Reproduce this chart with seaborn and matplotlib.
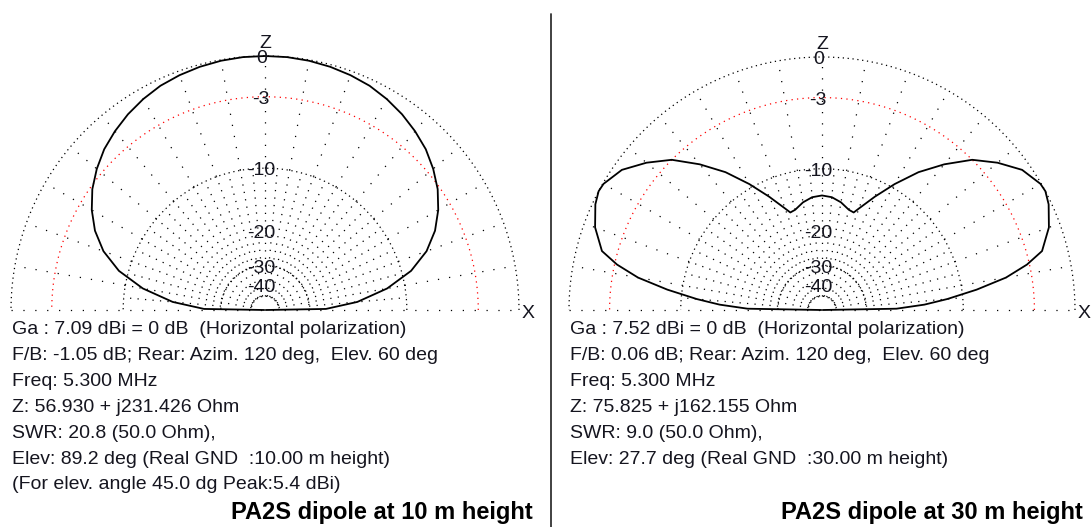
import numpy as np
import matplotlib
matplotlib.use("Agg")
import matplotlib.pyplot as plt
from matplotlib.lines import Line2D
import seaborn as sns

# elevation angle (deg, 0 = X axis, 180 = -X) and gain relative to max (dB)
angles_10m = [0, 1, 5, 10, 15, 20, 25, 30, 35, 40, 45, 50, 55, 60, 65, 70, 75, 80, 85, 90,
              95, 100, 105, 110, 115, 120, 125, 130, 135, 140, 145, 150, 155, 160, 165, 170, 175, 179, 180]
gain_10m = [-99, -24.5, -17.3, -12.3, -8.9, -6.7, -5.2, -4.1, -3.2, -2.5, -1.9, -1.45, -1.05, -0.72,
            -0.45, -0.28, -0.15, -0.06, -0.01, 0.0,
            -0.01, -0.06, -0.15, -0.28, -0.45, -0.72, -1.05, -1.45, -1.9, -2.5, -3.2, -4.1, -5.2,
            -6.7, -8.9, -12.3, -17.3, -24.5, -99]

angles_30m = [0, 1, 3, 5, 7.5, 10, 12.5, 15, 20, 25, 28, 30, 35, 40, 45, 50, 55, 60, 65, 70, 72, 75, 80, 85, 90,
              95, 100, 105, 108, 110, 115, 120, 125, 130, 135, 140, 145, 150, 152, 155, 160,
              165, 167.5, 170, 172.5, 175, 177, 179, 180]
gain_30m = [-99, -21.0, -15.5, -12.0, -8.3, -5.2, -3.2, -1.8, -0.8, -0.2, 0.0, -0.05, -0.6, -1.7, -3.0,
            -4.9, -7.0, -9.5, -12.1, -14.6, -15.5, -15.3, -14.4, -13.8, -13.6,
            -13.8, -14.4, -15.3, -15.5, -14.6, -12.1, -9.5, -7.0, -4.9, -3.0, -1.7, -0.6, -0.05, 0.0,
            -0.2, -0.8, -1.8, -3.2, -5.2, -8.3, -12.0, -15.5, -21.0, -99]

grid_db = [0, -10, -30, -50]
red_db = -3
label_db = [0, -3, -10, -20, -30, -40]
label_txt = ["0", "-3", "-10", "-20", "-30", "-40"]

info_10m = [
    "Ga : 7.09 dBi = 0 dB  (Horizontal polarization)",
    "F/B: -1.05 dB; Rear: Azim. 120 deg,  Elev. 60 deg",
    "Freq: 5.300 MHz",
    "Z: 56.930 + j231.426 Ohm",
    "SWR: 20.8 (50.0 Ohm),",
    "Elev: 89.2 deg (Real GND  :10.00 m height)",
    "(For elev. angle 45.0 dg Peak:5.4 dBi)",
]
info_30m = [
    "Ga : 7.52 dBi = 0 dB  (Horizontal polarization)",
    "F/B: 0.06 dB; Rear: Azim. 120 deg,  Elev. 60 deg",
    "Freq: 5.300 MHz",
    "Z: 75.825 + j162.155 Ohm",
    "SWR: 9.0 (50.0 Ohm),",
    "Elev: 27.7 deg (Real GND  :30.00 m height)",
]
titles = ["PA2S dipole at 10 m height", "PA2S dipole at 30 m height"]

W, H = 1092, 527
TXT = "#15151f"
FS = 14


def arrl(db):
    # ARRL log scale: 0.89 per 2 dB
    return 0.89 ** (-np.asarray(db, dtype=float) / 2.0)


def draw_panel(fig, cx, cy, R, angles, gain):
    x0, x1, y0, y1 = -1.04, 1.09, -0.06, 1.16
    ax = fig.add_axes([(cx + x0 * R) / W, (H - cy + y0 * R) / H,
                       (x1 - x0) * R / W, (y1 - y0) * R / H])
    ax.set_xlim(x0, x1)
    ax.set_ylim(y0, y1)
    ax.axis("off")

    t = np.linspace(0, np.pi, 400)
    dots = dict(color="black", lw=0.9)
    for db in grid_db:
        r = arrl(db)
        ax.plot(r * np.cos(t), r * np.sin(t), ls=(0, (1, 2.9)), **dots)
    r = arrl(red_db)
    ax.plot(r * np.cos(t), r * np.sin(t), ls=(0, (1, 3.4)), color="red", lw=0.9)

    # baseline and spokes
    ax.plot([-1, 1], [0, 0], ls=(0, (1, 8.5)), **dots)
    r_in, r_low, r_mid = arrl(-50), arrl(-30), arrl(-10)
    for a in range(5, 180, 5):
        th = np.radians(a)
        c, s = np.cos(th), np.sin(th)
        if a % 10 == 0:
            ax.plot([r_in * c, r_mid * c], [r_in * s, r_mid * s], ls=(0, (1, 5)), **dots)
            ax.plot([r_mid * c, c], [r_mid * s, s], ls=(0, (1, 8)), **dots)
        else:
            ax.plot([r_low * c, r_mid * c], [r_low * s, r_mid * s], ls=(0, (1, 5)), **dots)

    for db, txt in zip(label_db, label_txt):
        ax.text(-0.015, arrl(db) - 0.01, txt, ha="center", va="center", fontsize=FS, color=TXT)
    ax.text(0, 1.05, "Z", ha="center", va="center", fontsize=FS, color=TXT)
    ax.text(1.012, -0.012, "X", ha="left", va="center", fontsize=FS, color=TXT)

    th = np.radians(angles)
    r = arrl(gain)
    sns.lineplot(x=r * np.cos(th), y=r * np.sin(th), sort=False, estimator=None,
                 color="black", lw=1.3, ax=ax)
    return ax


sns.set_style("white")
plt.rcParams["font.family"] = ["Liberation Sans", "DejaVu Sans"]

fig = plt.figure(figsize=(W / 100, H / 100), dpi=100)
fig.patch.set_facecolor("white")

draw_panel(fig, 265, 310, 254, angles_10m, gain_10m)
draw_panel(fig, 822, 310, 253, angles_30m, gain_30m)

for x, lines in [(12, info_10m), (570, info_30m)]:
    for i, s in enumerate(lines):
        fig.text(x / W, 1 - (330 + i * 25.8) / H, s, ha="left", va="center",
                 fontsize=FS, color=TXT)

fig.text(533 / W, 1 - 513 / H, titles[0], ha="right", va="center",
         fontsize=17, fontweight="bold", color="black")
fig.text(1083 / W, 1 - 513 / H, titles[1], ha="right", va="center",
         fontsize=17, fontweight="bold", color="black")

fig.add_artist(Line2D([551 / W, 551 / W], [0, 1 - 14 / H], color="#333333", lw=1.3))

fig.savefig("out.png", dpi=100)
plt.close(fig)
